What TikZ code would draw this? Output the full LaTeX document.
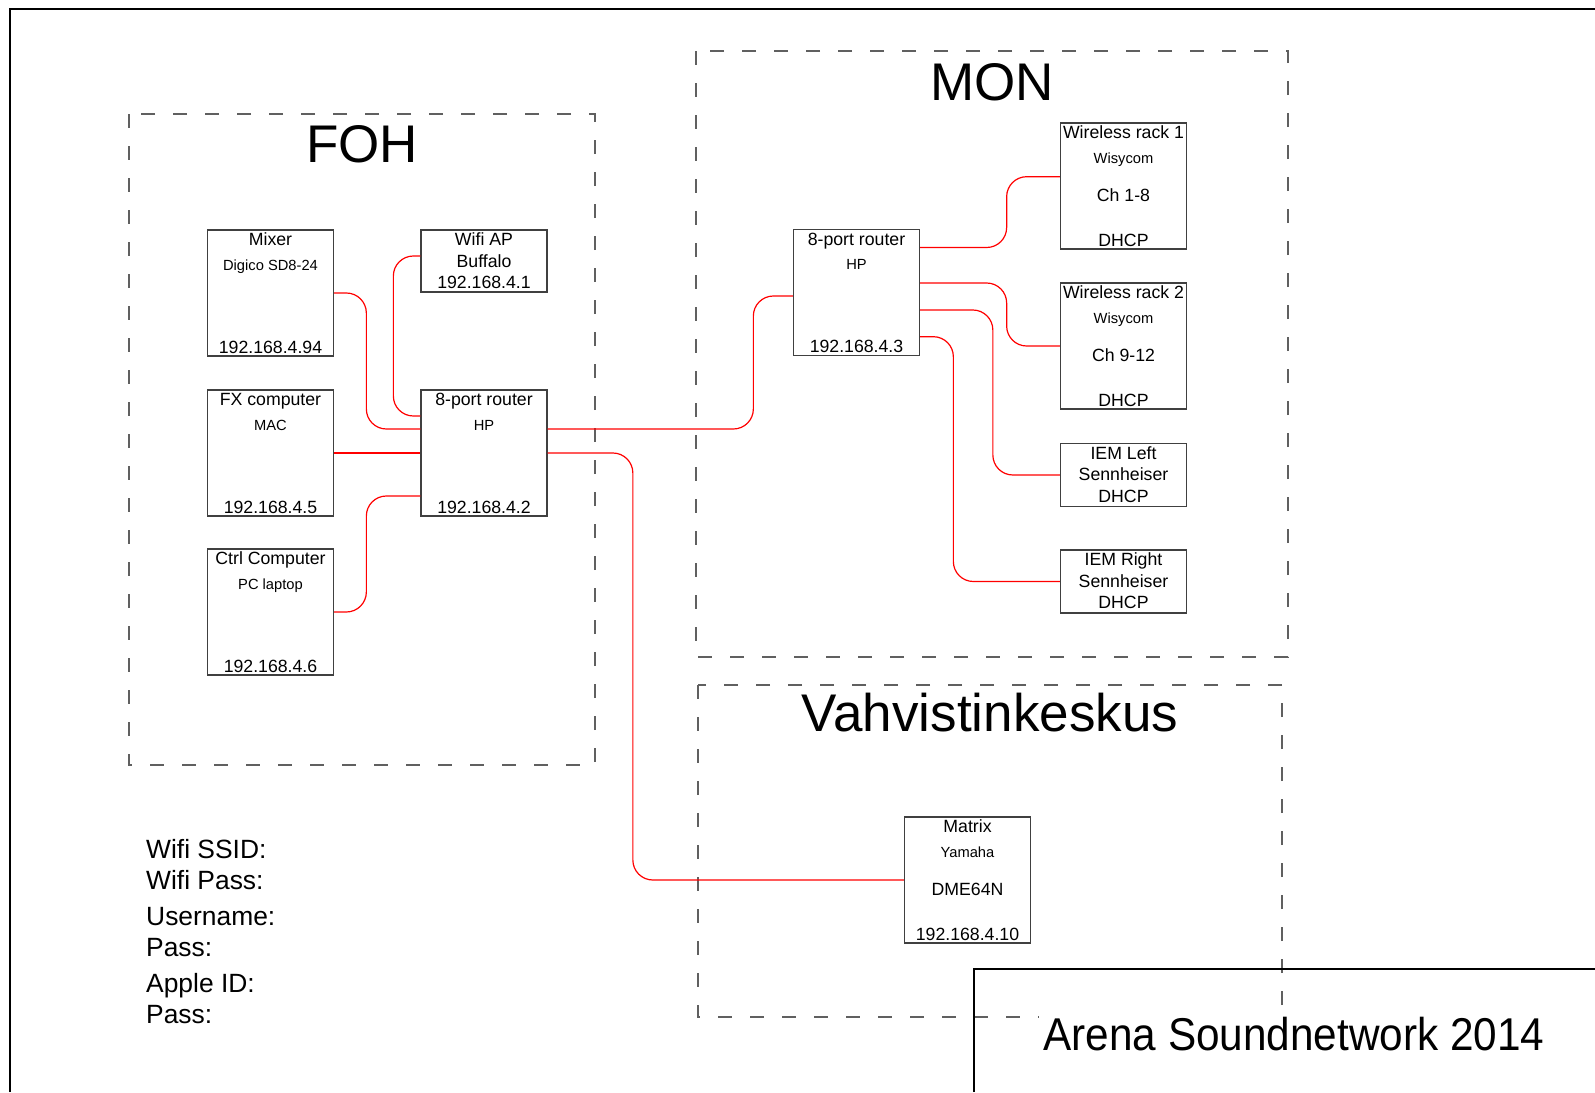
\documentclass[tikz,border=0pt]{standalone}
\usepackage{fontspec}
\setmainfont{Liberation Sans}
\newfontfamily\titlefont[FakeStretch=0.92]{Liberation Sans}
\usetikzlibrary{positioning}
\definecolor{boxgray}{HTML}{404040}
\definecolor{zonegray}{HTML}{606060}
\tikzset{
    every node/.style={inner sep=0pt},
    dev/.style={draw=boxgray, line width=1.3pt, minimum width=126pt, minimum height=126pt},
    devs/.style={dev, minimum height=63pt},
    txt/.style={font=\fontsize{17.7}{20}\selectfont, text height=12.7pt, text depth=0pt},
    subtxt/.style={font=\fontsize{14.7}{17}\selectfont, text height=10.5pt, text depth=0pt},
    zone/.style={draw=zonegray, line width=1.1pt, dash pattern=on 14pt off 18pt},
    zonename/.style={font=\fontsize{53}{60}\selectfont, text height=38pt, text depth=0pt},
    note/.style={anchor=west, font=\fontsize{26.4}{30}\selectfont, text height=18.9pt, text depth=0pt},
    link/.style={red, line width=1.2pt, rounded corners=20pt},
    frame/.style={black, line width=2.5pt}
}

\begin{document}
\begin{tikzpicture}[x=1pt, y=-1pt]
    \useasboundingbox (0,0) rectangle (1595,1092);

    \draw[frame] (10,1092) -- (10,9) -- (1595,9);

    \draw[zone] (129,114) rectangle (595,765);
    \draw[zone] (696,51) rectangle (1288,657);
    \draw[zone] (698,685) rectangle (1282,1017);
    \node[zonename] (foh) at (362,143) {FOH};
    \node[zonename] (mon) at (992,81) {MON};
    \node[zonename] (vahv) at (990,712) {Vahvistinkeskus};

    % FOH
    \node[dev] (mixer) at (270.5,293) {};
    \node[txt] (mixer-n) at ([yshift=-10pt]mixer.north) {Mixer};
    \node[subtxt] (mixer-s) at ([yshift=-35.5pt]mixer.north) {Digico SD8-24};
    \node[txt] (mixer-ip) at ([yshift=10pt]mixer.south) {192.168.4.94};

    \node[dev] (fxpc) at (270.5,453) {};
    \node[txt] (fxpc-n) at ([yshift=-10pt]fxpc.north) {FX computer};
    \node[subtxt] (fxpc-s) at ([yshift=-35.5pt]fxpc.north) {MAC};
    \node[txt] (fxpc-ip) at ([yshift=10pt]fxpc.south) {192.168.4.5};

    \node[dev] (ctrlpc) at (270.5,612) {};
    \node[txt] (ctrlpc-n) at ([yshift=-10pt]ctrlpc.north) {Ctrl Computer};
    \node[subtxt] (ctrlpc-s) at ([yshift=-35.5pt]ctrlpc.north) {PC laptop};
    \node[txt] (ctrlpc-ip) at ([yshift=10pt]ctrlpc.south) {192.168.4.6};

    \node[dev, minimum height=62pt] (wifiap) at (484,261) {};
    \node[txt] (wifiap-n) at ([yshift=-10pt]wifiap.north) {Wifi AP};
    \node[txt] (wifiap-s) at ([yshift=-31.4pt]wifiap.north) {Buffalo};
    \node[txt] (wifiap-ip) at ([yshift=-52.8pt]wifiap.north) {192.168.4.1};

    \node[dev] (rtfoh) at (484,453) {};
    \node[txt] (rtfoh-n) at ([yshift=-10pt]rtfoh.north) {8-port router};
    \node[subtxt] (rtfoh-s) at ([yshift=-35.5pt]rtfoh.north) {HP};
    \node[txt] (rtfoh-ip) at ([yshift=10pt]rtfoh.south) {192.168.4.2};

    % MON
    \node[dev] (rtmon) at (856.5,292.5) {};
    \node[txt] (rtmon-n) at ([yshift=-10.5pt]rtmon.north) {8-port router};
    \node[subtxt] (rtmon-s) at ([yshift=-35pt]rtmon.north) {HP};
    \node[txt] (rtmon-ip) at ([yshift=10pt]rtmon.south) {192.168.4.3};

    \node[dev] (wrack1) at (1123.5,186) {};
    \node[txt] (wrack1-n) at ([yshift=-10pt]wrack1.north) {Wireless rack 1};
    \node[subtxt] (wrack1-s) at ([yshift=-35.5pt]wrack1.north) {Wisycom};
    \node[txt] (wrack1-ch) at ([yshift=-73pt]wrack1.north) {Ch 1-8};
    \node[txt] (wrack1-ip) at ([yshift=10pt]wrack1.south) {DHCP};

    \node[dev] (wrack2) at (1123.5,346) {};
    \node[txt] (wrack2-n) at ([yshift=-10pt]wrack2.north) {Wireless rack 2};
    \node[subtxt] (wrack2-s) at ([yshift=-35.5pt]wrack2.north) {Wisycom};
    \node[txt] (wrack2-ch) at ([yshift=-73pt]wrack2.north) {Ch 9-12};
    \node[txt] (wrack2-ip) at ([yshift=10pt]wrack2.south) {DHCP};

    \node[devs] (ieml) at (1123.5,475) {};
    \node[txt] (ieml-n) at ([yshift=-10pt]ieml.north) {IEM Left};
    \node[txt] (ieml-s) at ([yshift=-31.5pt]ieml.north) {Sennheiser};
    \node[txt] (ieml-ip) at ([yshift=-53pt]ieml.north) {DHCP};

    \node[devs] (iemr) at (1123.5,581.5) {};
    \node[txt] (iemr-n) at ([yshift=-10pt]iemr.north) {IEM Right};
    \node[txt] (iemr-s) at ([yshift=-31.5pt]iemr.north) {Sennheiser};
    \node[txt] (iemr-ip) at ([yshift=-53pt]iemr.north) {DHCP};

    % Vahvistinkeskus
    \node[dev] (matrix) at (967.5,880) {};
    \node[txt] (matrix-n) at ([yshift=-10pt]matrix.north) {Matrix};
    \node[subtxt] (matrix-s) at ([yshift=-35.5pt]matrix.north) {Yamaha};
    \node[txt] (matrix-ch) at ([yshift=-73pt]matrix.north) {DME64N};
    \node[txt] (matrix-ip) at ([yshift=10pt]matrix.south) {192.168.4.10};

    % cables
    \draw[link] (mixer.east) -| ([xshift=-54pt, yshift=24pt]rtfoh.west) -- ([yshift=24pt]rtfoh.west);
    \draw[link] ([yshift=5pt]wifiap.west) -| ([xshift=-27pt, yshift=37pt]rtfoh.west) -- ([yshift=37pt]rtfoh.west);
    \draw[link] (fxpc.east) -- (rtfoh.west);
    \draw[link] (ctrlpc.east) -| ([xshift=-54pt, yshift=-43pt]rtfoh.west) -- ([yshift=-43pt]rtfoh.west);
    \draw[link] ([yshift=24pt]rtfoh.east) -| ([xshift=-39.5pt, yshift=-3.5pt]rtmon.west) -- ([yshift=-3.5pt]rtmon.west);
    \draw[link] (rtfoh.east) -| ([xshift=-271pt]matrix.west) -- (matrix.west);
    \draw[link] ([yshift=45pt]rtmon.east) -| ([xshift=-53.2pt, yshift=9.3pt]wrack1.west) -- ([yshift=9.3pt]wrack1.west);
    \draw[link] ([yshift=9.5pt]rtmon.east) -| ([xshift=-53.2pt]wrack2.west) -- (wrack2.west);
    \draw[link] ([yshift=-17.5pt]rtmon.east) -| ([xshift=-67pt]ieml.west) -- (ieml.west);
    \draw[link] ([yshift=-44.2pt]rtmon.east) -| ([xshift=-106.5pt]iemr.west) -- (iemr.west);

    % notes
    \node[note] (ssid) at (146,849.5) {Wifi SSID:};
    \node[note] (wpass) at (146,880) {Wifi Pass:};
    \node[note] (user) at (146,916.5) {Username:};
    \node[note] (upass) at (146,947) {Pass:};
    \node[note] (apple) at (146,983.5) {Apple ID:};
    \node[note] (apass) at (146,1014) {Pass:};

    \draw[frame] (974,1092) -- (974,969) -- (1595,969);
    \node[fill=white, inner sep=4pt, font=\titlefont\fontsize{46}{50}\selectfont, text height=33pt, text depth=0pt] (title) at (1294,1034) {Arena Soundnetwork 2014};
\end{tikzpicture}
\end{document}
